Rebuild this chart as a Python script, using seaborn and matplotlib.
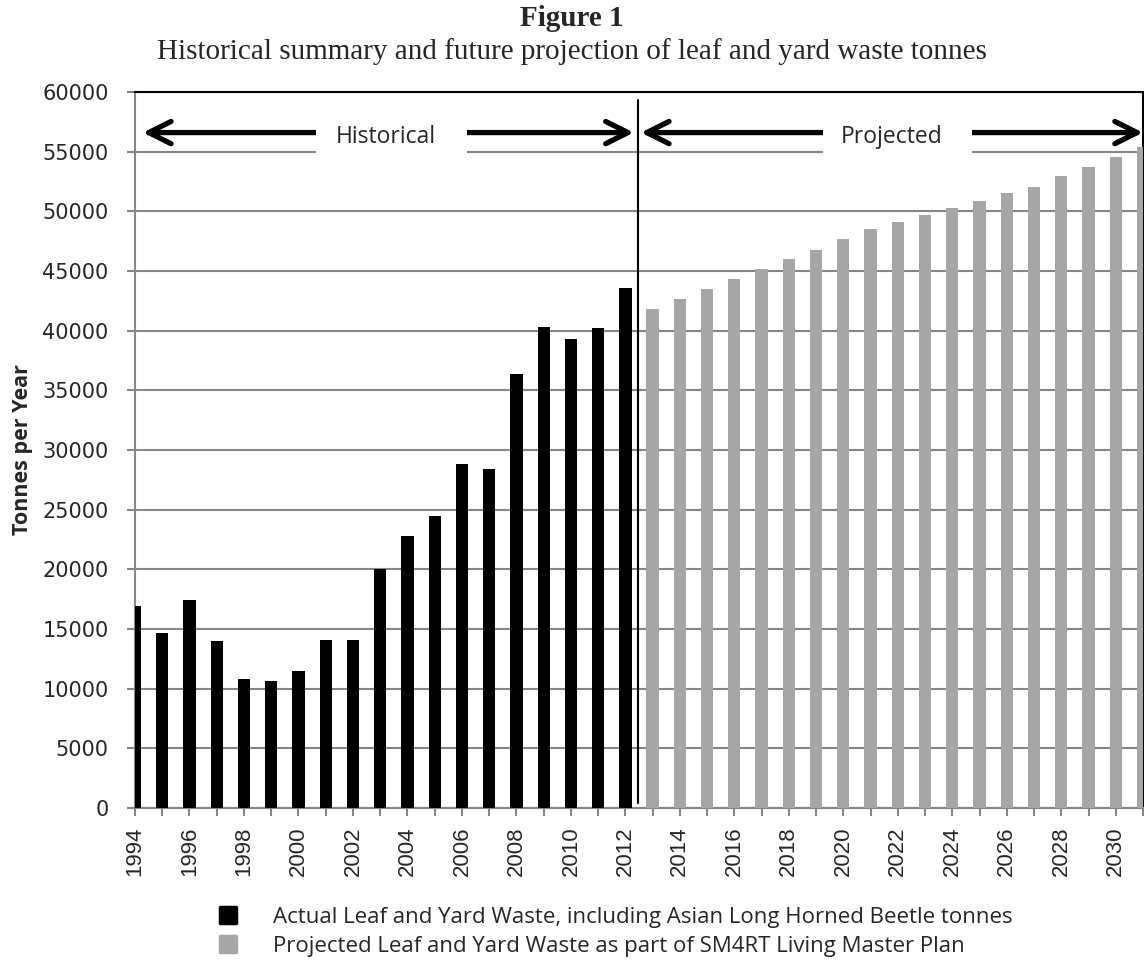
import matplotlib
matplotlib.use('Agg')
import matplotlib.pyplot as plt
import seaborn as sns
import pandas as pd
from matplotlib.lines import Line2D
from matplotlib.markers import MarkerStyle
from matplotlib.patches import Rectangle

# ---- data ----
hist_years = list(range(1994, 2013))
hist_tonnes = [16900, 14700, 17450, 13970, 10780, 10610, 11520, 14110, 14110,
               20000, 22800, 24500, 28800, 28400, 36390, 40330, 39280, 40190, 43610]
proj_years = list(range(2013, 2032))
proj_tonnes = [41780, 42640, 43500, 44300, 45170, 46000, 46800, 47670, 48500,
               49100, 49700, 50300, 50890, 51500, 52080, 52920, 53720, 54530, 55400]
series_labels = ["Actual Leaf and Yard Waste, including Asian Long Horned Beetle tonnes",
                 "Projected Leaf and Yard Waste as part of SM4RT Living Master Plan"]
period_labels = ["Historical", "Projected"]
title_main = "Figure 1"
title_sub = "Historical summary and future projection of leaf and yard waste tonnes"
y_label = "Tonnes per Year"
y_ticks = list(range(0, 60001, 5000))
x_tick_years = list(range(1994, 2032))

BLACK = "#000000"
GRAY = "#A6A6A6"
GRID = "#868686"
W, H = 1144, 965

sns.set_style("white")
plt.rcParams['font.family'] = ['DejaVu Sans']

fig = plt.figure(figsize=(W / 100, H / 100), dpi=100)
ax = fig.add_axes([135 / W, 1 - 808 / H, (1143 - 135) / W, (808 - 92) / H])

hist_df = pd.DataFrame({"year": hist_years, "tonnes": hist_tonnes})
proj_df = pd.DataFrame({"year": proj_years, "tonnes": proj_tonnes})

sns.barplot(data=hist_df, x="year", y="tonnes", native_scale=True, width=0.45,
            color=BLACK, saturation=1, ax=ax, zorder=3, linewidth=0)
sns.barplot(data=proj_df, x="year", y="tonnes", native_scale=True, width=0.45,
            color=GRAY, saturation=1, ax=ax, zorder=3, linewidth=0)

ax.set_xlim(1994, 2031)
ax.set_ylim(0, 60000)
ax.set_yticks(y_ticks)
ax.set_yticklabels([str(v) for v in y_ticks], fontsize=15, family='DejaVu Sans')
ax.set_xticks(x_tick_years)
ax.set_xticklabels([str(y) if y % 2 == 0 else "" for y in x_tick_years],
                   rotation=90, fontsize=16, family='Liberation Sans')
ax.tick_params(axis='y', direction='out', length=6, width=1.5, color=GRID,
               left=True, pad=13)
ax.tick_params(axis='x', direction='out', length=5.5, width=1.5, color=GRID,
               bottom=True, pad=8)
ax.set_xlabel("")
ax.set_ylabel(y_label, fontsize=15.5, fontweight='bold', family='Open Sans')
ax.yaxis.set_label_coords(-(135 - 33) / (1143 - 135), 0.5)

ax.yaxis.grid(True, color=GRID, lw=1.5, zorder=0)
ax.set_axisbelow(True)
for s in ['left', 'bottom']:
    ax.spines[s].set_color(GRID)
    ax.spines[s].set_linewidth(1.5)
for s in ['top', 'right']:
    ax.spines[s].set_color(BLACK)
    ax.spines[s].set_linewidth(1.5)

# divider line
ax.plot([2012.46, 2012.46], [400, 59300], color=BLACK, lw=1.5, zorder=6, clip_on=False)

# arrows with text boxes
arrow_y = 56600
def period(x0, x1, gap0, gap1, label):
    ax.annotate('', xy=(x0, arrow_y), xytext=(x1, arrow_y),
                arrowprops=dict(arrowstyle='<->,head_length=0.8,head_width=0.4',
                                lw=3.8, color=BLACK, shrinkA=0, shrinkB=0,
                                mutation_scale=20, capstyle='round', joinstyle='round'),
                zorder=7, annotation_clip=False)
    ax.add_patch(Rectangle((gap0, 54550), gap1 - gap0, 3400, facecolor='white',
                           edgecolor='none', zorder=8))
    ax.text((gap0 + gap1) / 2 - 0.2, 56250, label, ha='center', va='center', fontsize=16.5,
            family='Open Sans', zorder=9)

period(1994.29, 2012.31, 2000.63, 2006.20, period_labels[0])
period(2012.57, 2031.0, 2019.24, 2024.73, period_labels[1])

fig.text(0.5, 1 - 26 / H, title_main, ha='center', va='baseline', fontsize=21,
         fontweight='bold', family='Liberation Serif')
fig.text(0.5, 1 - 59 / H, title_sub, ha='center', va='baseline', fontsize=21,
         family='Liberation Serif')

sq = MarkerStyle('s', joinstyle='round')
handles = [Line2D([], [], marker=sq, color=BLACK, linestyle='none', markersize=11,
                  markeredgewidth=2.5),
           Line2D([], [], marker=sq, color=GRAY, linestyle='none', markersize=11,
                  markeredgewidth=2.5)]
fs = 16
fig.legend(handles, series_labels, loc='center left',
           bbox_to_anchor=(217 / W, 1 - 932 / H), frameon=False,
           prop={'family': 'Open Sans', 'size': fs}, handletextpad=1.53,
           labelspacing=0.35, borderpad=0, handlelength=1.0, borderaxespad=0)

fig.savefig("out.png", dpi=100)
